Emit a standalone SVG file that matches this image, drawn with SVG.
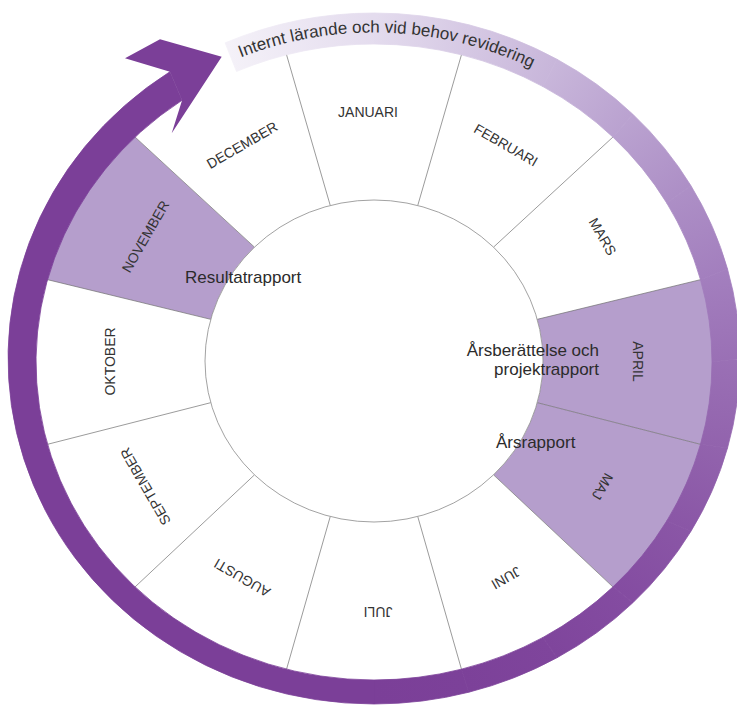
<svg xmlns="http://www.w3.org/2000/svg" width="737" height="706" viewBox="0 0 737 706">
<defs>
<style>
.seg{fill:#ffffff;}
.seg.hl{fill:#B59ECC;}
.div{stroke:#707070;stroke-width:0.7;fill:none;}
.month{font-family:"Liberation Sans",Arial,sans-serif;font-size:14px;fill:#333333;text-anchor:middle;dominant-baseline:central;}
.note{font-family:"Liberation Sans",Arial,sans-serif;font-size:17px;fill:#2b2b2b;}
.band{font-family:"Liberation Sans",Arial,sans-serif;font-size:17px;fill:#333333;}
.ring{stroke-width:0.8;}
</style>
<linearGradient id="g1" gradientUnits="userSpaceOnUse" x1="230.83" y1="57.18" x2="374" y2="28.5"><stop offset="0" stop-color="#F4F1F8"/><stop offset="1" stop-color="#E4DCEE"/></linearGradient>
<linearGradient id="g2" gradientUnits="userSpaceOnUse" x1="374" y1="28.5" x2="465.1" y2="39.8"><stop offset="0" stop-color="#E4DCEE"/><stop offset="1" stop-color="#D6C9E4"/></linearGradient>
<linearGradient id="g3" gradientUnits="userSpaceOnUse" x1="465.1" y1="39.8" x2="550" y2="72.95"><stop offset="0" stop-color="#D6C9E4"/><stop offset="1" stop-color="#C8B6DA"/></linearGradient>
<linearGradient id="g4" gradientUnits="userSpaceOnUse" x1="550" y1="72.95" x2="622.9" y2="125.67"><stop offset="0" stop-color="#C8B6DA"/><stop offset="1" stop-color="#BAA2D0"/></linearGradient>
<linearGradient id="g5" gradientUnits="userSpaceOnUse" x1="622.9" y1="125.67" x2="678.84" y2="194.37"><stop offset="0" stop-color="#BAA2D0"/><stop offset="1" stop-color="#AD8FC6"/></linearGradient>
<linearGradient id="g6" gradientUnits="userSpaceOnUse" x1="678.84" y1="194.37" x2="714.01" y2="274.39"><stop offset="0" stop-color="#AD8FC6"/><stop offset="1" stop-color="#A37FBE"/></linearGradient>
<linearGradient id="g7" gradientUnits="userSpaceOnUse" x1="714.01" y1="274.39" x2="726" y2="360.25"><stop offset="0" stop-color="#A37FBE"/><stop offset="1" stop-color="#9A70B5"/></linearGradient>
<linearGradient id="g8" gradientUnits="userSpaceOnUse" x1="726" y1="360.25" x2="714.01" y2="446.11"><stop offset="0" stop-color="#9A70B5"/><stop offset="1" stop-color="#9263AD"/></linearGradient>
<linearGradient id="g9" gradientUnits="userSpaceOnUse" x1="714.01" y1="446.11" x2="678.84" y2="526.13"><stop offset="0" stop-color="#9263AD"/><stop offset="1" stop-color="#8A56A6"/></linearGradient>
<linearGradient id="g10" gradientUnits="userSpaceOnUse" x1="678.84" y1="526.13" x2="622.9" y2="594.83"><stop offset="0" stop-color="#8A56A6"/><stop offset="1" stop-color="#844CA1"/></linearGradient>
<linearGradient id="g11" gradientUnits="userSpaceOnUse" x1="622.9" y1="594.83" x2="550" y2="647.55"><stop offset="0" stop-color="#844CA1"/><stop offset="1" stop-color="#7F459C"/></linearGradient>
<linearGradient id="g12" gradientUnits="userSpaceOnUse" x1="550" y1="647.55" x2="465.1" y2="680.7"><stop offset="0" stop-color="#7F459C"/><stop offset="1" stop-color="#7C4199"/></linearGradient>
<linearGradient id="g13" gradientUnits="userSpaceOnUse" x1="465.1" y1="680.7" x2="374" y2="692"><stop offset="0" stop-color="#7C4199"/><stop offset="1" stop-color="#7B3F98"/></linearGradient>
<path id="bandPath" d="M 240.83 57.45 A 348 327.75 0 0 1 573.6 91.77"/>
</defs>

<rect x="0" y="0" width="737" height="706" fill="#ffffff"/>

<g id="month-januari">
<path class="seg" d="M 330.26 205.49 L 286.0 52.9 A 340 320 0 0 1 462.0 52.9 L 417.74 205.49 A 169 161 0 0 0 330.26 205.49 Z"/>
<text class="month" transform="translate(368 111.5)">JANUARI</text>
</g>
<g id="month-februari">
<path class="seg" d="M 417.74 205.49 L 462.0 52.9 A 340 320 0 0 1 614.4 135.7 L 493.50 247.16 A 169 161 0 0 0 417.74 205.49 Z"/>
<text class="month" transform="translate(506 145) rotate(30)">FEBRUARI</text>
</g>
<g id="month-mars">
<path class="seg" d="M 493.50 247.16 L 614.4 135.7 A 340 320 0 0 1 702.4 279.2 L 537.24 319.33 A 169 161 0 0 0 493.50 247.16 Z"/>
<text class="month" transform="translate(602.6 236.5) rotate(60)">MARS</text>
</g>
<g id="month-april">
<path class="seg hl" d="M 537.24 319.33 L 702.4 279.2 A 340 320 0 0 1 702.4 444.8 L 537.24 402.67 A 169 161 0 0 0 537.24 319.33 Z"/>
<text class="month" transform="translate(638 361.5) rotate(90)">APRIL</text>
</g>
<g id="month-maj">
<path class="seg hl" d="M 537.24 402.67 L 702.4 444.8 A 340 320 0 0 1 614.4 588.3 L 493.50 474.84 A 169 161 0 0 0 537.24 402.67 Z"/>
<text class="month" transform="translate(602.6 486.5) rotate(120)">MAJ</text>
</g>
<g id="month-juni">
<path class="seg" d="M 493.50 474.84 L 614.4 588.3 A 340 320 0 0 1 462.0 671.1 L 417.74 516.51 A 169 161 0 0 0 493.50 474.84 Z"/>
<text class="month" transform="translate(506 578) rotate(150)">JUNI</text>
</g>
<g id="month-juli">
<path class="seg" d="M 417.74 516.51 L 462.0 671.1 A 340 320 0 0 1 286.0 671.1 L 330.26 516.51 A 169 161 0 0 0 417.74 516.51 Z"/>
<text class="month" transform="translate(378 611.5) rotate(180)">JULI</text>
</g>
<g id="month-augusti">
<path class="seg" d="M 330.26 516.51 L 286.0 671.1 A 340 320 0 0 1 133.6 588.3 L 254.50 474.84 A 169 161 0 0 0 330.26 516.51 Z"/>
<text class="month" transform="translate(242 578) rotate(210)">AUGUSTI</text>
</g>
<g id="month-september">
<path class="seg" d="M 254.50 474.84 L 133.6 588.3 A 340 320 0 0 1 45.6 444.8 L 210.76 402.67 A 169 161 0 0 0 254.50 474.84 Z"/>
<text class="month" transform="translate(145.4 486.5) rotate(240)">SEPTEMBER</text>
</g>
<g id="month-oktober">
<path class="seg" d="M 210.76 402.67 L 45.6 444.8 A 340 320 0 0 1 45.6 279.2 L 210.76 319.33 A 169 161 0 0 0 210.76 402.67 Z"/>
<text class="month" transform="translate(110 361.5) rotate(270)">OKTOBER</text>
</g>
<g id="month-november">
<path class="seg hl" d="M 210.76 319.33 L 45.6 279.2 A 340 320 0 0 1 133.6 135.7 L 254.50 247.16 A 169 161 0 0 0 210.76 319.33 Z"/>
<text class="month" transform="translate(145.4 236.5) rotate(300)">NOVEMBER</text>
</g>
<g id="month-december">
<path class="seg" d="M 254.50 247.16 L 133.6 135.7 A 340 320 0 0 1 286.0 52.9 L 330.26 205.49 A 169 161 0 0 0 254.50 247.16 Z"/>
<text class="month" transform="translate(242 145) rotate(330)">DECEMBER</text>
</g>

<g id="dividers">
<line class="div" x1="330.26" y1="205.49" x2="286.0" y2="52.9"/>
<line class="div" x1="417.74" y1="205.49" x2="462.0" y2="52.9"/>
<line class="div" x1="493.50" y1="247.16" x2="614.4" y2="135.7"/>
<line class="div" x1="537.24" y1="319.33" x2="702.4" y2="279.2"/>
<line class="div" x1="537.24" y1="402.67" x2="702.4" y2="444.8"/>
<line class="div" x1="493.50" y1="474.84" x2="614.4" y2="588.3"/>
<line class="div" x1="417.74" y1="516.51" x2="462.0" y2="671.1"/>
<line class="div" x1="330.26" y1="516.51" x2="286.0" y2="671.1"/>
<line class="div" x1="254.50" y1="474.84" x2="133.6" y2="588.3"/>
<line class="div" x1="210.76" y1="402.67" x2="45.6" y2="444.8"/>
<line class="div" x1="210.76" y1="319.33" x2="45.6" y2="279.2"/>
<line class="div" x1="254.50" y1="247.16" x2="133.6" y2="135.7"/>
</g>

<g id="hub">
<ellipse cx="374" cy="361" rx="169" ry="161" fill="#ffffff" stroke="#8a8a8a" stroke-width="0.8"/>
</g>

<g id="connectors">
<path class="ring" fill="url(#g1)" stroke="url(#g1)" d="M 225.13 42.87 A 366 345.5 0 0 1 374 13 L 374 44 A 338 318 0 0 0 236.52 71.49 Z"/>
<path class="ring" fill="url(#g2)" stroke="url(#g2)" d="M 374 13 A 366 345.5 0 0 1 468.73 24.77 L 461.48 54.83 A 338 318 0 0 0 374 44 Z"/>
<path class="ring" fill="url(#g3)" stroke="url(#g3)" d="M 468.73 24.77 A 366 345.5 0 0 1 557 59.29 L 543 86.60 A 338 318 0 0 0 461.48 54.83 Z"/>
<path class="ring" fill="url(#g4)" stroke="url(#g4)" d="M 557 59.29 A 366 345.5 0 0 1 632.80 114.19 L 613.00 137.14 A 338 318 0 0 0 543 86.60 Z"/>
<path class="ring" fill="url(#g5)" stroke="url(#g5)" d="M 632.80 114.19 A 366 345.5 0 0 1 690.97 185.75 L 666.72 203 A 338 318 0 0 0 613.00 137.14 Z"/>
<path class="ring" fill="url(#g6)" stroke="url(#g6)" d="M 690.97 185.75 A 366 345.5 0 0 1 727.53 269.08 L 700.48 279.70 A 338 318 0 0 0 666.72 203 Z"/>
<path class="ring" fill="url(#g7)" stroke="url(#g7)" d="M 727.53 269.08 A 366 345.5 0 0 1 740 358.5 L 712 362 A 338 318 0 0 0 700.48 279.70 Z"/>
<path class="ring" fill="url(#g8)" stroke="url(#g8)" d="M 740 358.5 A 366 345.5 0 0 1 727.53 447.92 L 700.48 444.30 A 338 318 0 0 0 712 362 Z"/>
<path class="ring" fill="url(#g9)" stroke="url(#g9)" d="M 727.53 447.92 A 366 345.5 0 0 1 690.97 531.25 L 666.72 521 A 338 318 0 0 0 700.48 444.30 Z"/>
<path class="ring" fill="url(#g10)" stroke="url(#g10)" d="M 690.97 531.25 A 366 345.5 0 0 1 632.80 602.81 L 613.00 586.86 A 338 318 0 0 0 666.72 521 Z"/>
<path class="ring" fill="url(#g11)" stroke="url(#g11)" d="M 632.80 602.81 A 366 345.5 0 0 1 557 657.71 L 543 637.40 A 338 318 0 0 0 613.00 586.86 Z"/>
<path class="ring" fill="url(#g12)" stroke="url(#g12)" d="M 557 657.71 A 366 345.5 0 0 1 468.73 692.23 L 461.48 669.17 A 338 318 0 0 0 543 637.40 Z"/>
<path class="ring" fill="url(#g13)" stroke="url(#g13)" d="M 468.73 692.23 A 366 345.5 0 0 1 374 704 L 374 680 A 338 318 0 0 0 461.48 669.17 Z"/>
<path class="ring" fill="#7B3F98" stroke="#7B3F98" d="M 374 704 A 366 345.5 0 0 1 169.99 71.67 L 182.08 100.25 A 338 318 0 0 0 374 680 Z"/>
<polygon fill="#7B3F98" points="169.99,71.67 125,58.3 160,39.3 221.7,56.7 171.7,133.3 182.08,100.25"/>
<text class="band"><textPath href="#bandPath">Internt lärande och vid behov revidering</textPath></text>
</g>

<g id="note-resultatrapport">
<text class="note" x="185" y="283">Resultatrapport</text>
</g>
<g id="note-arsberattelse">
<text class="note" text-anchor="end" x="599" y="356">Årsberättelse och</text>
<text class="note" text-anchor="end" x="599" y="375">projektrapport</text>
</g>
<g id="note-arsrapport">
<text class="note" x="496" y="448">Årsrapport</text>
</g>
</svg>
